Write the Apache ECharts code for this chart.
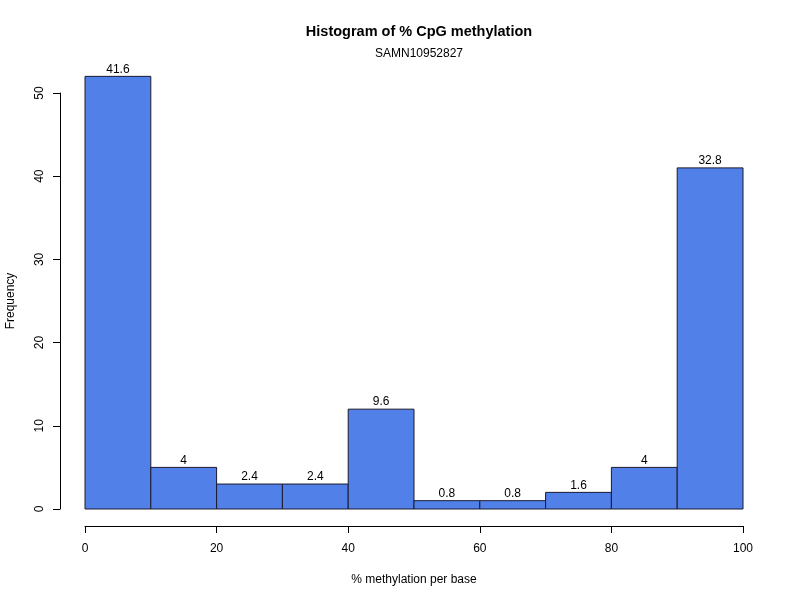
<!DOCTYPE html>
<html><head><meta charset="utf-8">
<script src="https://cdn.jsdelivr.net/npm/echarts@6/dist/echarts.min.js"></script>
<style>html,body{margin:0;padding:0;background:#fff}#c{width:800px;height:600px}</style>
</head><body><div id="c"></div>
<script>
const binStarts = [0, 10, 20, 30, 40, 50, 60, 70, 80, 90];
const binEnds = [10, 20, 30, 40, 50, 60, 70, 80, 90, 100];
const counts = [52, 5, 3, 3, 12, 1, 1, 2, 5, 41];
const percentLabels = ['41.6', '4', '2.4', '2.4', '9.6', '0.8', '0.8', '1.6', '4', '32.8'];
const xTicks = [0, 20, 40, 60, 80, 100];
const yTicks = [0, 10, 20, 30, 40, 50];

const FONT = '"Liberation Sans", Arial, Helvetica, sans-serif';
const chart = echarts.init(document.getElementById('c'), null, {renderer: 'canvas'});
const data = binStarts.map((s, i) => [s, binEnds[i], counts[i], percentLabels[i]]);

chart.setOption({
  animation: false,
  backgroundColor: '#fff',
  title: [
    {text: 'Histogram of % CpG methylation', left: 414, textAlign: 'center', top: 19,
     textStyle: {fontFamily: FONT, fontSize: 14.5, fontWeight: 'bold', color: '#000'}},
    {text: 'SAMN10952827', left: 414, textAlign: 'center', top: 43,
     textStyle: {fontFamily: FONT, fontSize: 12, fontWeight: 'normal', color: '#000'}}
  ],
  grid: {left: 85, right: 57, top: 93, bottom: 91, containLabel: false, outerBoundsMode: 'none'},
  xAxis: {
    type: 'value', min: 0, max: 100, interval: 20, offset: 17,
    name: '% methylation per base', nameLocation: 'middle', nameGap: 48,
    nameTextStyle: {fontFamily: FONT, fontSize: 12, color: '#000'},
    axisLine: {show: true, onZero: false, lineStyle: {color: '#000', width: 1}},
    axisTick: {show: true, length: 7, inside: false, lineStyle: {color: '#000'}},
    axisLabel: {fontFamily: FONT, fontSize: 12, color: '#000', margin: 17},
    splitLine: {show: false}
  },
  yAxis: {
    type: 'value', min: 0, max: 50, interval: 10, offset: 25,
    name: 'Frequency', nameLocation: 'middle', nameGap: 43,
    nameTextStyle: {fontFamily: FONT, fontSize: 12, color: '#000'},
    axisLine: {show: true, onZero: false, lineStyle: {color: '#000', width: 1}},
    axisTick: {show: true, length: 7, inside: false, lineStyle: {color: '#000'}},
    axisLabel: {fontFamily: FONT, fontSize: 12, color: '#000', rotate: 90, margin: 20,
      verticalAlign: 'middle', align: 'center'},
    splitLine: {show: false}
  },
  series: [{
    type: 'custom',
    clip: false,
    data: data,
    encode: {x: [0, 1], y: 2},
    renderItem: function (params, api) {
      const s = api.value(0), e = api.value(1), c = api.value(2);
      const p0 = api.coord([s, c]);
      const p1 = api.coord([e, 0]);
      const lbl = percentLabels[params.dataIndex];
      return {
        type: 'group',
        children: [
          {type: 'rect', shape: {x: p0[0], y: p0[1], width: p1[0] - p0[0], height: p1[1] - p0[1]},
           style: {fill: '#5180E9', stroke: '#1a1a2e', lineWidth: 1}},
          {type: 'text', x: (p0[0] + p1[0]) / 2, y: p0[1] - 1,
           style: {text: lbl, fontFamily: FONT, fontSize: 12, fill: '#000',
             align: 'center', verticalAlign: 'bottom'}}
        ]
      };
    }
  }]
});
</script></body></html>
